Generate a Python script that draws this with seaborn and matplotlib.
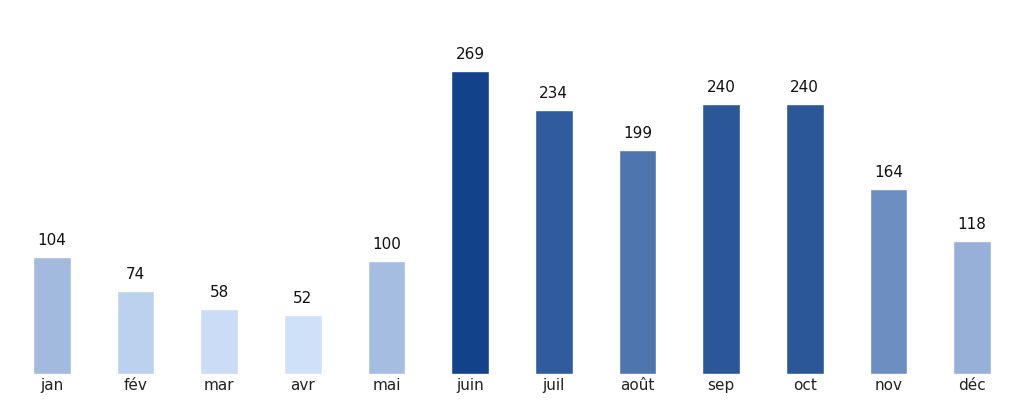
import matplotlib
matplotlib.use("Agg")
import matplotlib.pyplot as plt
import seaborn as sns
import numpy as np
import matplotlib.colors as mcolors

months = ["jan","fév","mar","avr","mai","juin","juil","août","sep","oct","nov","déc"]
values = [104,74,58,52,100,269,234,199,240,240,164,118]

sns.set_theme(style="white")
plt.rcParams['font.family'] = ['DejaVu Sans']

cmap = mcolors.LinearSegmentedColormap.from_list("b", ["#cfe0f9", "#12428a"])
vmin, vmax = min(values), max(values)
colors = [cmap((v - vmin) / (vmax - vmin)) for v in values]

fig = plt.figure(figsize=(10.24, 4.04), dpi=100)
ax = fig.add_axes([0.01, 0.074, 0.98, 0.837])
sns.barplot(x=months, y=values, hue=months, palette=colors, legend=False, width=0.45, ax=ax, saturation=1)
for i, v in enumerate(values):
    ax.text(i, v + 8, str(v), ha="center", va="bottom", fontsize=11, color="#111111")
ax.set_ylim(0, 300)
ax.set_xlim(-0.5, 11.5)
ax.set_yticks([])
ax.set_ylabel("")
ax.tick_params(axis="x", labelsize=11, length=0, pad=3, colors="#222222")
for s in ax.spines.values():
    s.set_visible(False)
fig.savefig("out.png", dpi=100)
